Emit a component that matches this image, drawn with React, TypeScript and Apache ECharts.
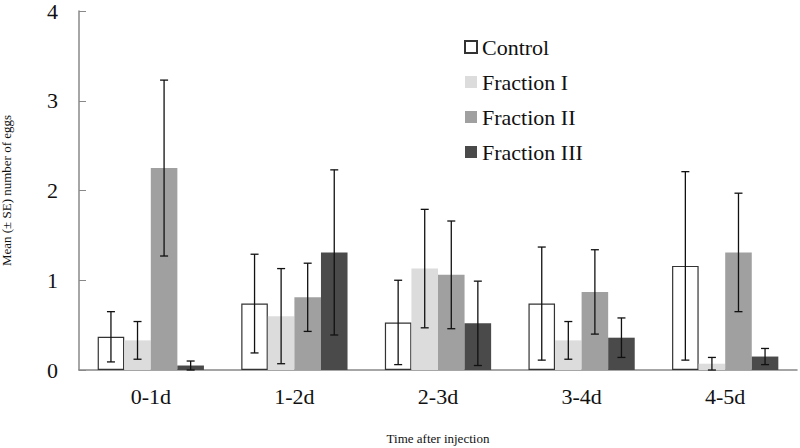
import React, { useEffect, useRef } from "react";
import * as echarts from "echarts";

const categories = ["0-1d", "1-2d", "2-3d", "3-4d", "4-5d"];
const seriesNames = ["Control", "Fraction I", "Fraction II", "Fraction III"];
const controlMean = [0.37, 0.74, 0.53, 0.74, 1.16];
const controlSE = [0.28, 0.55, 0.47, 0.63, 1.05];
const fraction1Mean = [0.33, 0.6, 1.13, 0.33, 0.07];
const fraction1SE = [0.21, 0.53, 0.66, 0.21, 0.07];
const fraction2Mean = [2.25, 0.81, 1.06, 0.87, 1.31];
const fraction2SE = [0.98, 0.38, 0.6, 0.47, 0.66];
const fraction3Mean = [0.05, 1.31, 0.52, 0.36, 0.15];
const fraction3SE = [0.05, 0.92, 0.47, 0.22, 0.09];

const means = [controlMean, fraction1Mean, fraction2Mean, fraction3Mean];
const ses = [controlSE, fraction1SE, fraction2SE, fraction3SE];
const fills = ["#ffffff", "#dcdcdc", "#a0a0a0", "#4a4a4a"];
const FONT = "'Liberation Serif', 'Times New Roman', serif";
const CAT_GAP = 0.26;

export default function App() {
  const ref = useRef<HTMLDivElement>(null);
  useEffect(() => {
    if (!ref.current) return;
    const chart = echarts.init(ref.current, undefined, { renderer: "svg" });
    const errData: number[][] = [];
    means.forEach((m, s) => {
      m.forEach((v, c) => {
        errData.push([c, s, Math.max(0, v - ses[s][c]), v + ses[s][c]]);
      });
    });
    const barSeries = seriesNames.map((name, s) => ({
      name,
      type: "bar",
      data: means[s],
      barGap: "0%",
      barCategoryGap: CAT_GAP * 100 + "%",
      itemStyle: {
        color: fills[s],
        borderColor: s === 0 ? "#333333" : fills[s],
        borderWidth: s === 0 ? 1.2 : 0,
      },
    }));
    chart.setOption({
      animation: false,
      backgroundColor: "#ffffff",
      grid: { left: 79, right: 3, top: 11, bottom: 78, containLabel: false, outerBoundsMode: "none" },
      legend: {
        orient: "vertical",
        left: 459,
        top: 31,
        icon: "rect",
        itemWidth: 12,
        itemHeight: 12,
        itemGap: 13,
        data: seriesNames,
        textStyle: { fontFamily: FONT, fontSize: 22, color: "#111", lineHeight: 22 },
      },
      xAxis: {
        type: "category",
        data: categories,
        name: "Time after injection",
        nameLocation: "middle",
        nameGap: 62,
        nameTextStyle: { fontFamily: FONT, fontSize: 13, color: "#111" },
        axisLine: { lineStyle: { color: "#888", width: 1.5 } },
        axisTick: { show: false },
        axisLabel: { fontFamily: FONT, fontSize: 22, color: "#111", margin: 15 },
      },
      yAxis: {
        type: "value",
        min: 0,
        max: 4,
        interval: 1,
        name: "Mean (± SE) number of eggs",
        nameLocation: "middle",
        nameGap: 66,
        nameTextStyle: { fontFamily: FONT, fontSize: 13, color: "#111" },
        axisLine: { show: true, lineStyle: { color: "#888", width: 1.5 } },
        axisTick: { show: true, inside: true, length: 7, lineStyle: { color: "#888" } },
        splitLine: { show: false },
        axisLabel: { fontFamily: FONT, fontSize: 22, color: "#111", margin: 21 },
      },
      series: [
        ...barSeries,
        {
          type: "custom",
          name: "err",
          data: errData,
          z: 10,
          encode: { x: 0, y: [2, 3] },
          renderItem: (params: any, api: any) => {
            const c = api.value(0);
            const s = api.value(1);
            const lo = api.value(2);
            const hi = api.value(3);
            const catW = api.size([1, 0])[0];
            const bw = (catW * (1 - CAT_GAP)) / 4;
            const p1 = api.coord([c, hi]);
            const p0 = api.coord([c, lo]);
            const x = p1[0] + (s - 1.5) * bw;
            const cap = 4;
            const style = { stroke: "#111", lineWidth: 1.3 };
            return {
              type: "group",
              children: [
                { type: "line", shape: { x1: x, y1: p1[1], x2: x, y2: p0[1] }, style },
                { type: "line", shape: { x1: x - cap, y1: p1[1], x2: x + cap, y2: p1[1] }, style },
                { type: "line", shape: { x1: x - cap, y1: p0[1], x2: x + cap, y2: p0[1] }, style },
              ],
            };
          },
        },
      ],
    });
    return () => chart.dispose();
  }, []);
  return <div ref={ref} style={{ width: 800, height: 448, position: "absolute", left: 0, top: 0 }} />;
}
